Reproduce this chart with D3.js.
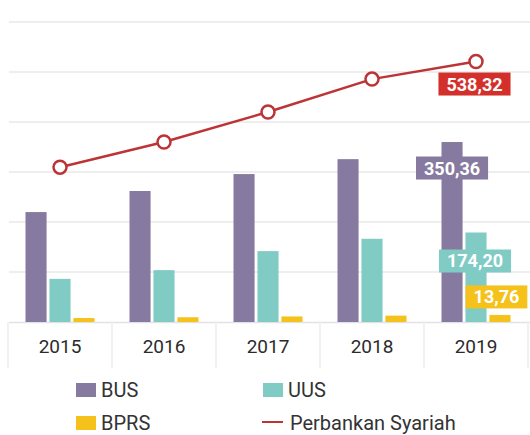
<!DOCTYPE html>
<html lang="en">
<head>
  <meta charset="UTF-8">
  <title>Aset Perbankan Syariah</title>
  <style type="text/css">
    body { margin: 0px; background: #fff; }
    svg { font-family: Roboto, sans-serif; }
    .year { fill: #2b2b2b; font-size: 19px; }
    .legend-text { fill: #333; font-size: 20px; }
    .val { fill: #fff; font-size: 18px; font-weight: bold; }
  </style>
  <script src="https://d3js.org/d3.v7.min.js"></script>
</head>
<body>
  <svg width="530" height="435"></svg>
  <script>
    const years = ['2015', '2016', '2017', '2018', '2019'];
    const bus = [214, 255, 288, 317, 350.36];
    const uus = [84, 101, 138, 162, 174.20];
    const bprs = [7.7, 9.2, 10.8, 12.4, 13.76];
    const total = [320, 372, 434, 502, 538.32];   // Perbankan Syariah (own axis)

    const seriesNames = ['BUS', 'UUS', 'BPRS'];
    const colors = { BUS: '#877aa0', UUS: '#80cbc4', BPRS: '#f5c11b', line: '#bd3436' };

    const svg = d3.select('svg');
    const baseY = 322, topY = 22;

    const x = d3.scaleBand().domain(years).range([8, 528]);
    const x1 = d3.scaleBand().domain(seriesNames)
      .range([x.bandwidth() / 2 - 34.5, x.bandwidth() / 2 + 34.5])
      .paddingInner(0.12);
    const y = d3.scaleLinear().domain([0, 584]).range([baseY, topY]);
    const yLine = d3.scaleLinear().domain([0, 620]).range([baseY, topY]);

    // gridlines
    const grid = d3.range(1, 7).map(i => i * 584 / 6);
    svg.append('g').selectAll('line').data(grid).enter().append('line')
      .attr('x1', 9).attr('x2', 530)
      .attr('y1', d => y(d)).attr('y2', d => y(d))
      .attr('stroke', '#e9e9e9').attr('stroke-width', 1.5);

    // x axis box
    const axisG = svg.append('g');
    axisG.append('line').attr('x1', 9).attr('x2', 530)
      .attr('y1', baseY + 0.5).attr('y2', baseY + 0.5)
      .attr('stroke', '#e2e2e2').attr('stroke-width', 1.5);
    axisG.selectAll('.sep').data(years.concat(['end'])).enter().append('line')
      .attr('class', 'sep')
      .attr('x1', (d, i) => i < years.length ? x(d) : x.range()[1])
      .attr('x2', (d, i) => i < years.length ? x(d) : x.range()[1])
      .attr('y1', baseY).attr('y2', baseY + 46)
      .attr('stroke', '#ececec').attr('stroke-width', 1.5);
    axisG.selectAll('.year').data(years).enter().append('text')
      .attr('class', 'year')
      .attr('x', d => x(d) + x.bandwidth() / 2)
      .attr('y', 353)
      .attr('text-anchor', 'middle')
      .text(d => d);

    // bars
    const rows = years.map((yr, i) => ({ year: yr, BUS: bus[i], UUS: uus[i], BPRS: bprs[i] }));
    const groups = svg.append('g').selectAll('g').data(rows).enter().append('g')
      .attr('transform', d => `translate(${x(d.year)},0)`);
    groups.selectAll('rect').data(d => seriesNames.map(k => ({ key: k, value: d[k] })))
      .enter().append('rect')
      .attr('x', d => x1(d.key))
      .attr('width', x1.bandwidth())
      .attr('y', d => y(d.value))
      .attr('height', d => baseY - y(d.value))
      .attr('fill', d => colors[d.key]);

    // line
    const cx = yr => x(yr) + x.bandwidth() / 2;
    const line = d3.line().x((d, i) => cx(years[i])).y(d => yLine(d));
    svg.append('path').datum(total)
      .attr('d', line)
      .attr('fill', 'none')
      .attr('stroke', colors.line)
      .attr('stroke-width', 2.5);
    svg.append('g').selectAll('circle').data(total).enter().append('circle')
      .attr('cx', (d, i) => cx(years[i]))
      .attr('cy', d => yLine(d))
      .attr('r', 6.5)
      .attr('fill', '#fff')
      .attr('stroke', colors.line)
      .attr('stroke-width', 2.5);

    // value labels for 2019
    const last = years.length - 1;
    const fmt = v => d3.format('.2f')(v).replace('.', ',');
    const labels = [
      { v: total[last], cx: cx(years[last]) - 1.5, cy: yLine(total[last]) + 22.5, fill: '#d3302c' },
      { v: bus[last], cx: x(years[last]) + x1('BUS') + x1.bandwidth() / 2, cy: y(bus[last]) + 26, fill: colors.BUS },
      { v: uus[last], cx: x(years[last]) + x1('UUS') + x1.bandwidth() / 2 - 1, cy: y(uus[last]) + 28.5, fill: colors.UUS },
      { v: bprs[last], cx: x(years[last]) + x1('BPRS') + x1.bandwidth() / 2 - 3.5, cy: y(bprs[last]) - 18, fill: colors.BPRS }
    ];
    const lg = svg.append('g').selectAll('g').data(labels).enter().append('g')
      .attr('transform', d => `translate(${d.cx},${d.cy})`);
    lg.append('rect').attr('fill', d => d.fill);
    lg.append('text').attr('class', 'val')
      .attr('text-anchor', 'middle').attr('dy', '0.36em')
      .text(d => fmt(d.v));
    lg.each(function () {
      const g = d3.select(this);
      const b = g.select('text').node().getBBox();
      g.select('rect')
        .attr('x', -b.width / 2 - 8).attr('width', b.width + 16)
        .attr('y', -11.5).attr('height', 23);
    });

    // legend
    const legend = [
      { name: 'BUS', type: 'rect', color: colors.BUS, x: 76, y: 390 },
      { name: 'UUS', type: 'rect', color: colors.UUS, x: 263, y: 390 },
      { name: 'BPRS', type: 'rect', color: colors.BPRS, x: 76, y: 423 },
      { name: 'Perbankan Syariah', type: 'line', color: colors.line, x: 262, y: 422 }
    ];
    const leg = svg.append('g').selectAll('g').data(legend).enter().append('g')
      .attr('transform', d => `translate(${d.x},${d.y})`);
    leg.filter(d => d.type === 'rect').append('rect')
      .attr('x', 0).attr('y', -7).attr('width', 20).attr('height', 14)
      .attr('fill', d => d.color);
    leg.filter(d => d.type === 'line').append('line')
      .attr('x1', 0).attr('x2', 21).attr('y1', 0).attr('y2', 0)
      .attr('stroke', d => d.color).attr('stroke-width', 2);
    leg.append('text').attr('class', 'legend-text')
      .attr('x', d => d.type === 'rect' ? 25 : 28)
      .attr('y', d => d.type === 'rect' ? 7 : 8)
      .text(d => d.name);
  </script>
</body>
</html>
